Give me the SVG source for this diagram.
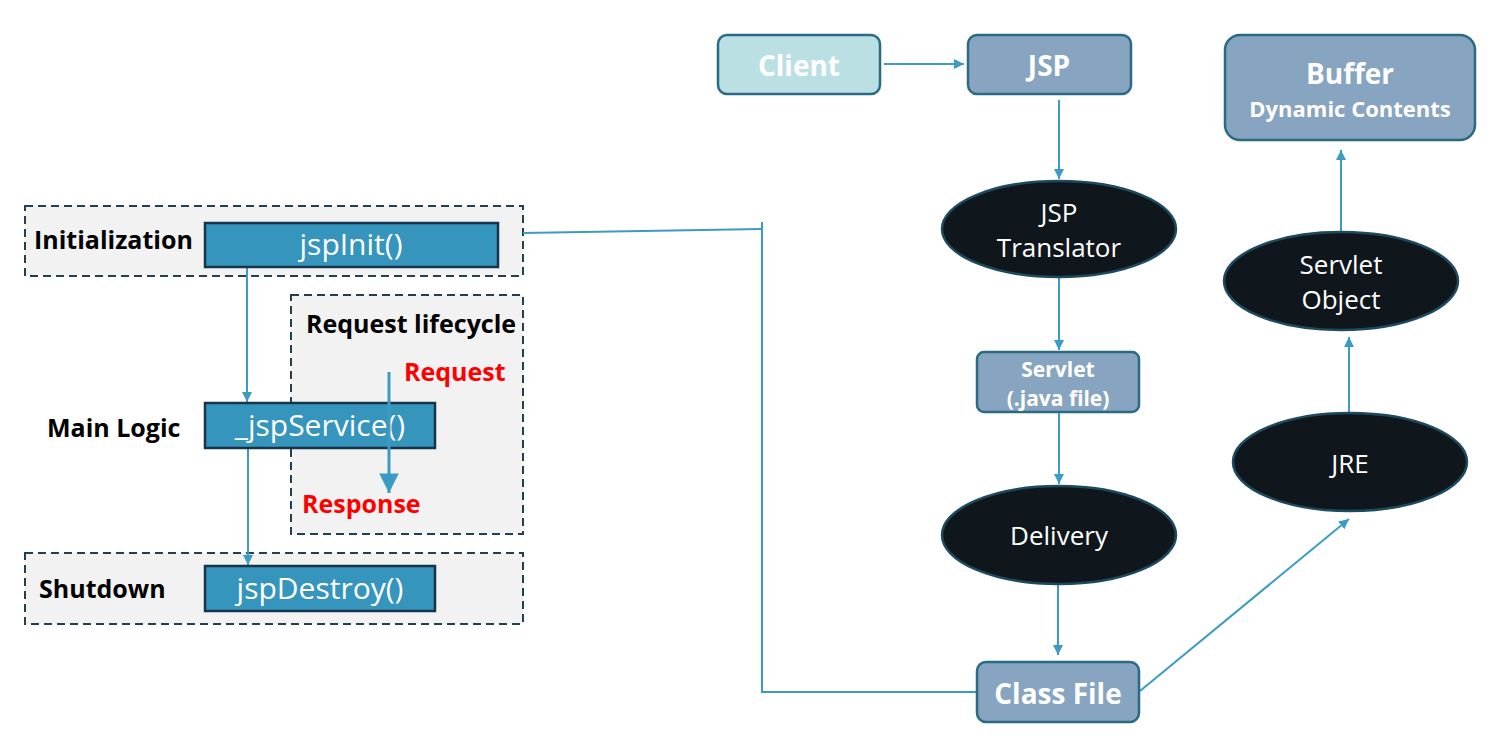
<svg xmlns="http://www.w3.org/2000/svg" width="1506" height="752" viewBox="0 0 1506 752">
<defs>
<style>
.dash{fill:#F2F2F2;stroke:#22404F;stroke-width:2;stroke-dasharray:8 5}
.fn{fill:#3595BD;stroke:#17354A;stroke-width:2.5}
.fnt{font-family:"Open Sans",sans-serif;font-size:30px;fill:#fff;text-anchor:middle}
.lbl{font-family:"Open Sans",sans-serif;font-size:25px;font-weight:bold;fill:#000}
.red{font-family:"Open Sans",sans-serif;font-size:25px;font-weight:bold;fill:#FF0000}
.box{fill:#87A5C0;stroke:#2A6A84;stroke-width:2.5}
.bt{font-family:"Open Sans",sans-serif;font-weight:bold;fill:#fff;text-anchor:middle}
.ell{fill:#0F171D;stroke:#1D4A5E;stroke-width:2.5}
.et{font-family:"Open Sans",sans-serif;font-size:26px;fill:#fff;text-anchor:middle}
.con{fill:none;stroke:#3A9CC4;stroke-width:2}
</style>
<marker id="ah" viewBox="0 0 10 10" refX="10" refY="5" markerWidth="5" markerHeight="5" markerUnits="strokeWidth" orient="auto">
<path d="M0,0 L10,5 L0,10 z" fill="#3A9CC4"/>
</marker>
<marker id="ahb" viewBox="0 0 10 10" refX="10" refY="5" markerWidth="8.5" markerHeight="6.5" markerUnits="strokeWidth" orient="auto">
<path d="M0,0 L10,5 L0,10 z" fill="#3A9CC4"/>
</marker>
</defs>
<rect width="1506" height="752" fill="#fff"/>

<g id="init-group">
<rect class="dash" x="25" y="206" width="498" height="70"/>
<text class="lbl" x="34" y="249">Initialization</text>
</g>
<g id="request-group">
<rect class="dash" x="291" y="295" width="232" height="239"/>
<text class="lbl" x="306" y="333">Request lifecycle</text>
</g>
<g id="shutdown-group">
<rect class="dash" x="25" y="553" width="498" height="71"/>
<text class="lbl" x="39" y="598">Shutdown</text>
</g>
<g id="main-logic-label">
<text class="lbl" x="47" y="437">Main Logic</text>
</g>

<g id="connectors">
<line class="con" x1="247" y1="267" x2="247" y2="402" marker-end="url(#ah)"/>
<line class="con" x1="248" y1="448" x2="248" y2="565" marker-end="url(#ah)"/>
<polyline class="con" points="523,233 762,229"/>
<line class="con" x1="762" y1="222" x2="762" y2="692"/>
<line class="con" x1="761" y1="692" x2="978" y2="692"/>
<line class="con" x1="884" y1="64" x2="964" y2="64" marker-end="url(#ah)"/>
<line class="con" x1="1059" y1="100" x2="1059" y2="179" marker-end="url(#ah)"/>
<line class="con" x1="1059" y1="278" x2="1059" y2="350" marker-end="url(#ah)"/>
<line class="con" x1="1059" y1="412" x2="1059" y2="484" marker-end="url(#ah)"/>
<line class="con" x1="1058" y1="584" x2="1058" y2="655" marker-end="url(#ah)"/>
<line class="con" x1="1140" y1="691" x2="1349" y2="519" marker-end="url(#ah)"/>
<line class="con" x1="1349" y1="413" x2="1349" y2="337" marker-end="url(#ah)"/>
<line class="con" x1="1341" y1="231" x2="1341" y2="150" marker-end="url(#ah)"/>
</g>

<g id="jspInit">
<rect class="fn" x="205" y="223" width="293" height="44"/>
<text class="fnt" x="351" y="255">jspInit()</text>
</g>
<g id="jspService">
<rect class="fn" x="205" y="403" width="230" height="45"/>
<text class="fnt" x="320" y="436">_jspService()</text>
</g>
<g id="request-arrow">
<line x1="389" y1="372" x2="389" y2="493" stroke="#3A9CC4" stroke-width="3" marker-end="url(#ahb)"/>
<text class="red" x="404" y="381">Request</text>
<text class="red" x="302" y="513">Response</text>
</g>
<g id="jspDestroy">
<rect class="fn" x="205" y="566" width="230" height="45"/>
<text class="fnt" x="320" y="599">jspDestroy()</text>
</g>

<g id="client">
<rect x="718" y="35" width="162" height="59" rx="9" fill="#BBE0E3" stroke="#2A6A84" stroke-width="2.5"/>
<text class="bt" x="799" y="76" font-size="28">Client</text>
</g>
<g id="jsp">
<rect class="box" x="968" y="35" width="163" height="59" rx="9"/>
<text class="bt" x="1049" y="76" font-size="28">JSP</text>
</g>
<g id="buffer">
<rect class="box" x="1225" y="35" width="250" height="105" rx="15"/>
<text class="bt" x="1350" y="84" font-size="28">Buffer</text>
<text class="bt" x="1350" y="117" font-size="22">Dynamic Contents</text>
</g>
<g id="translator">
<ellipse class="ell" cx="1059" cy="229" rx="117" ry="48"/>
<text class="et" x="1059" y="222">JSP</text>
<text class="et" x="1059" y="257">Translator</text>
</g>
<g id="servlet-java">
<rect class="box" x="977" y="352" width="162" height="60" rx="7"/>
<text class="bt" x="1058" y="377" font-size="21">Servlet</text>
<text class="bt" x="1058" y="406" font-size="21">(.java file)</text>
</g>
<g id="delivery">
<ellipse class="ell" cx="1059" cy="535" rx="117" ry="49"/>
<text class="et" x="1059" y="545">Delivery</text>
</g>
<g id="classfile">
<rect class="box" x="977" y="662" width="162" height="60" rx="9"/>
<text class="bt" x="1058" y="704" font-size="28">Class File</text>
</g>
<g id="jre">
<ellipse class="ell" cx="1350" cy="462" rx="117" ry="49"/>
<text class="et" x="1350" y="473">JRE</text>
</g>
<g id="servlet-object">
<ellipse class="ell" cx="1341" cy="281" rx="117" ry="49"/>
<text class="et" x="1341" y="274">Servlet</text>
<text class="et" x="1341" y="309">Object</text>
</g>
</svg>
